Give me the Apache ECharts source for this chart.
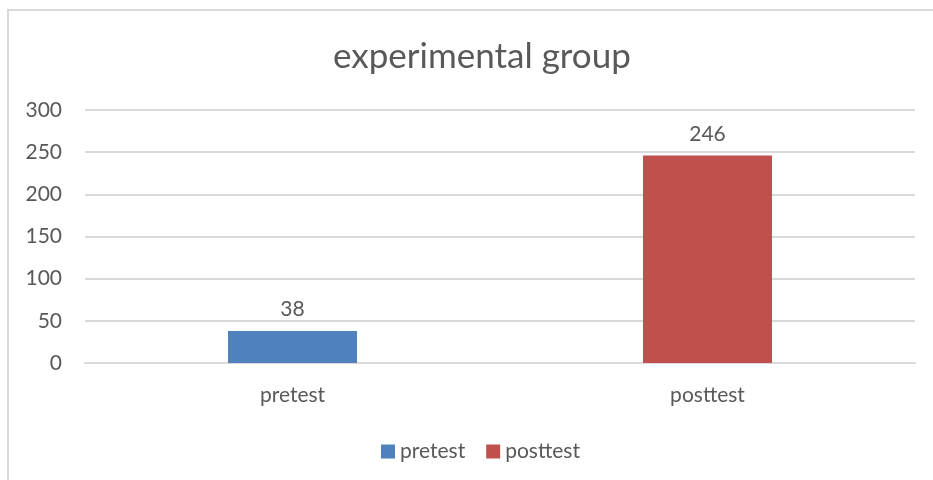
<!DOCTYPE html>
<html>
<head>
<meta charset="utf-8">
<script src="https://cdn.jsdelivr.net/npm/echarts@6/dist/echarts.min.js"></script>
<style>
	html, body { margin: 0; padding: 0; background: #fff; }
	#frame { position: absolute; left: 7px; top: 9px; width: 940px; height: 490px; border: 2px solid #d9d9d9; box-sizing: border-box; }
	#main { position: absolute; left: 0; top: 0; width: 933px; height: 480px; }
</style>
</head>
<body>
<div id="frame"></div>
<div id="main"></div>
<script>
	// chart data
	var categories = ["pretest", "posttest"];
	var seriesNames = ["pretest", "posttest"];
	var pretestValues = [38, "-"];
	var posttestValues = ["-", 246];
	var yTicks = [0, 50, 100, 150, 200, 250, 300];

	var colors = ["#4f81bd", "#c0504d"];
	var textColor = "#595959";
	var font = "Lato";

	var myChart = echarts.init(document.getElementById("main"));

	function barSeries(name, values, color){
		return {
			name: name,
			type: "bar",
			stack: "all",
			barWidth: 129,
			data: values,
			itemStyle: { color: color },
			label: {
				show: true,
				position: "top",
				distance: 11,
				color: textColor,
				fontFamily: font,
				fontSize: 21
			}
		};
	}

	myChart.setOption({
		animation: false,
		title: {
			text: "experimental group",
			left: 328,
			top: 34,
			textStyle: { color: textColor, fontFamily: font, fontSize: 35, fontWeight: "normal" }
		},
		legend: {
			data: seriesNames,
			left: 376,
			top: 436,
			itemWidth: 14,
			itemHeight: 14,
			itemGap: 21,
			icon: "rect",
			textStyle: { color: textColor, fontFamily: font, fontSize: 21 }
		},
		grid: { left: 85, right: 18, top: 110, bottom: 117 },
		xAxis: {
			type: "category",
			data: categories,
			axisTick: { show: false },
			axisLine: { lineStyle: { color: "#d9d9d9", width: 2 } },
			axisLabel: { color: textColor, fontFamily: font, fontSize: 21, margin: 22 }
		},
		yAxis: {
			type: "value",
			min: yTicks[0],
			max: yTicks[yTicks.length - 1],
			interval: 50,
			axisLine: { show: false },
			axisTick: { show: false },
			splitLine: { lineStyle: { color: "#d9d9d9", width: 2 } },
			axisLabel: { color: textColor, fontFamily: font, fontSize: 21, margin: 23 }
		},
		series: [
			barSeries(seriesNames[0], pretestValues, colors[0]),
			barSeries(seriesNames[1], posttestValues, colors[1])
		]
	});
</script>
</body>
</html>
